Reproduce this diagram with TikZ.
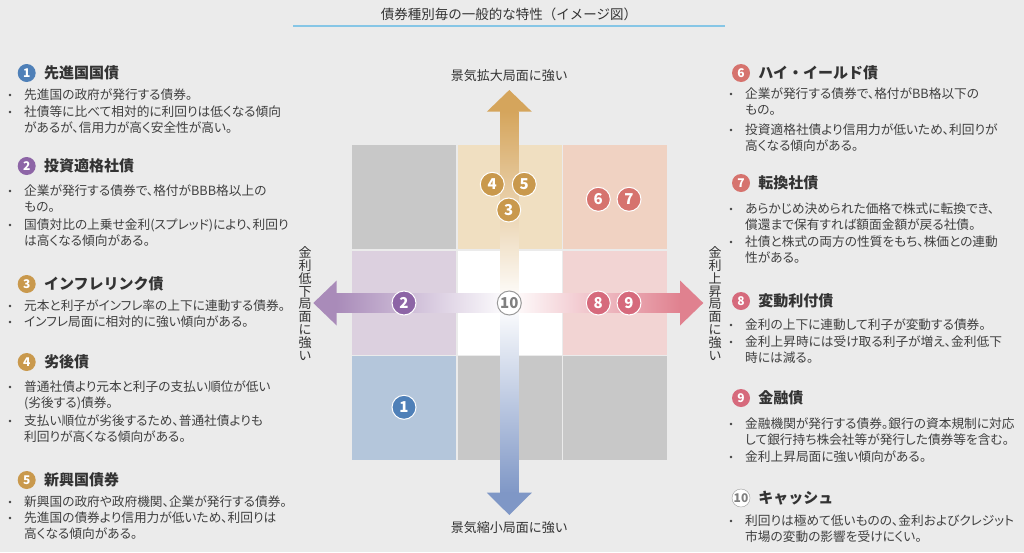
\documentclass[tikz,border=0pt]{standalone}
\usepackage{fontspec}
\setmainfont{Noto Sans CJK JP}
\newfontfamily\pj[RawFeature=+palt]{Noto Sans CJK JP}
\usetikzlibrary{positioning}
\definecolor{bg}{HTML}{EBEBEB}
\definecolor{ink}{HTML}{333333}
\definecolor{txt}{HTML}{404040}
\definecolor{rule}{HTML}{86C6E6}
\definecolor{gry}{HTML}{C8C8C8}
\definecolor{beige}{HTML}{F0DFC1}
\definecolor{salm}{HTML}{F0D2C2}
\definecolor{lav}{HTML}{DCD0DF}
\definecolor{rose}{HTML}{F2D4D3}
\definecolor{sky}{HTML}{B4C6DB}
\definecolor{cblue}{HTML}{4F80B8}
\definecolor{cpur}{HTML}{8D65A6}
\definecolor{cgold}{HTML}{C9994D}
\definecolor{csal}{HTML}{D6736E}
\definecolor{cpink}{HTML}{D66A7C}
\definecolor{agold}{HTML}{D5A55C}
\definecolor{ablue}{HTML}{7F97C6}
\definecolor{apur}{HTML}{A98BB9}
\definecolor{apink}{HTML}{E0818F}
\def\cellbox#1#2#3{\fill[#3] (#1,#2) rectangle ++(104,104);}
\def\bul#1#2#3#4{\node[dot] (#1d) at (#2-14,#3) {}; \node[body] (#1) at (#2,#3+4.8) {#4};}
\def\head#1#2#3#4#5{\node[hnum,#4] (h#1) at (#2,#3) {#1}; \node[headtxt,right=8pt of h#1] (t#1) {#5};}

\begin{document}
\begin{tikzpicture}[x=1pt,y=-1pt,
  dot/.style={circle,fill=txt,inner sep=0,minimum size=2.8},
  body/.style={anchor=base west,inner sep=0,text width=265,align=left,text=txt,font=\pj\fontsize{12.7}{16}\selectfont},
  hnum/.style={circle,inner sep=0,minimum size=18,text=white,font=\bfseries\fontsize{12}{12}\selectfont},
  headtxt/.style={inner sep=0,text=ink,font=\bfseries\fontsize{15}{15}\selectfont},
  gnum/.style={circle,draw=white,line width=1,inner sep=0,minimum size=24,text=white,font=\bfseries\fontsize{15}{15}\selectfont},
  axis/.style={text=ink,font=\fontsize{13}{13}\selectfont},
  vaxis/.style={text=ink,align=center,inner sep=0,font=\fontsize{13}{12.9}\selectfont}]
\useasboundingbox (0,0) rectangle (1024,552);
\fill[bg] (0,0) rectangle (1024,552);
% title
\node[text=ink,font=\fontsize{13.5}{13.5}\selectfont] (title) at (509,14) {債券種別毎の一般的な特性（イメージ図）};
\draw[rule,line width=1.5] (293,26) -- (725,26);
% grid
\cellbox{352}{145}{gry}
\cellbox{457.5}{145}{beige}
\cellbox{563}{145}{salm}
\cellbox{352}{250.5}{lav}
\cellbox{457.5}{250.5}{white}
\cellbox{563}{250.5}{rose}
\cellbox{352}{356}{sky}
\cellbox{457.5}{356}{gry}
\cellbox{563}{356}{gry}
% arrows
\shade[top color=agold,bottom color=white] (500,111) rectangle (518.6,303);
\fill[agold] (486.8,111.7) -- (509.3,90) -- (531.8,111.7) -- cycle;
\shade[top color=white,bottom color=ablue] (500,303) rectangle (518.6,493.5);
\fill[ablue] (486.8,492.7) -- (509.3,515) -- (531.8,492.7) -- cycle;
\shade[left color=apur,right color=white] (336,293.3) rectangle (509.3,312.7);
\fill[apur] (336.7,280.5) -- (313.3,303) -- (336.7,325.5) -- cycle;
\shade[left color=white,right color=apink] (509.3,293.3) rectangle (680.7,312.7);
\fill[apink] (680,280.5) -- (703.3,303) -- (680,325.5) -- cycle;
% circles
\node[gnum,fill=cgold] (c4) at (492.3,184.3) {4};
\node[gnum,fill=cgold] (c5) at (524.3,184.3) {5};
\node[gnum,fill=cgold] (c3) at (508.7,210) {3};
\node[gnum,fill=csal] (c6) at (598.3,199.3) {6};
\node[gnum,fill=csal] (c7) at (629,199.3) {7};
\node[gnum,fill=cpur] (c2) at (404,303) {2};
\node[gnum,fill=white,draw=gray!80,text=gray] (c10) at (509.3,303) {10};
\node[gnum,fill=cpink] (c8) at (598.3,303) {8};
\node[gnum,fill=cpink] (c9) at (629,303) {9};
\node[gnum,fill=cblue] (c1) at (404,407.3) {1};
% axis labels
\node[axis] (up) at (509.3,76) {景気拡大局面に強い};
\node[axis] (down) at (509.3,528) {景気縮小局面に強い};
\node[vaxis] (lo) at (305,303.5) {金\\利\\低\\下\\局\\面\\に\\強\\い};
\node[vaxis] (hi) at (715,303.5) {金\\利\\上\\昇\\局\\面\\に\\強\\い};
% left column
\head{1}{26.7}{73}{fill=cblue}{先進国国債}
\bul{b1a}{24}{95}{先進国の政府が発行する債券。}
\bul{b1b}{24}{112}{社債等に比べて相対的に利回りは低くなる傾向\\があるが、信用力が高く安全性が高い。}
\head{2}{26.7}{166}{fill=cpur}{投資適格社債}
\bul{b2a}{24}{191}{企業が発行する債券で、格付がBBB格以上の\\もの。}
\bul{b2b}{24}{225}{国債対比の上乗せ金利(スプレッド)により、利回り\\は高くなる傾向がある。}
\head{3}{26.7}{284}{fill=cgold}{インフレリンク債}
\bul{b3a}{24}{306}{元本と利子がインフレ率の上下に連動する債券。}
\bul{b3b}{24}{322}{インフレ局面に相対的に強い傾向がある。}
\head{4}{26.7}{362}{fill=cgold}{劣後債}
\bul{b4a}{24}{387}{普通社債より元本と利子の支払い順位が低い\\(劣後する)債券。}
\bul{b4b}{24}{421}{支払い順位が劣後するため、普通社債よりも\\利回りが高くなる傾向がある。}
\head{5}{26.7}{480}{fill=cgold}{新興国債券}
\bul{b5a}{24}{502}{新興国の政府や政府機関、企業が発行する債券。}
\bul{b5b}{24}{518}{先進国の債券より信用力が低いため、利回りは\\高くなる傾向がある。}
% right column
\head{6}{741}{73}{fill=csal}{ハイ・イールド債}
\bul{b6a}{745}{94}{企業が発行する債券で、格付がBB格以下の\\もの。}
\bul{b6b}{745}{130}{投資適格社債より信用力が低いため、利回りが\\高くなる傾向がある。}
\head{7}{741}{183}{fill=csal}{転換社債}
\bul{b7a}{745}{209}{あらかじめ決められた価格で株式に転換でき、\\償還まで保有すれば額面金額が戻る社債。}
\bul{b7b}{745}{242}{社債と株式の両方の性質をもち、株価との連動\\性がある。}
\head{8}{741}{301}{fill=cpink}{変動利付債}
\bul{b8a}{745}{325}{金利の上下に連動して利子が変動する債券。}
\bul{b8b}{745}{342}{金利上昇時には受け取る利子が増え、金利低下\\時には減る。}
\head{9}{741}{398}{fill=cpink}{金融債}
\bul{b9a}{745}{424}{金融機関が発行する債券。銀行の資本規制に対応\\して銀行持ち株会社等が発行した債券等を含む。}
\bul{b9b}{745}{457}{金利上昇局面に強い傾向がある。}
\head{10}{741}{498}{fill=white,draw=gray!80,text=gray}{キャッシュ}
\bul{b10a}{745}{521}{利回りは極めて低いものの、金利およびクレジット\\市場の変動の影響を受けにくい。}
\end{tikzpicture}
\end{document}
